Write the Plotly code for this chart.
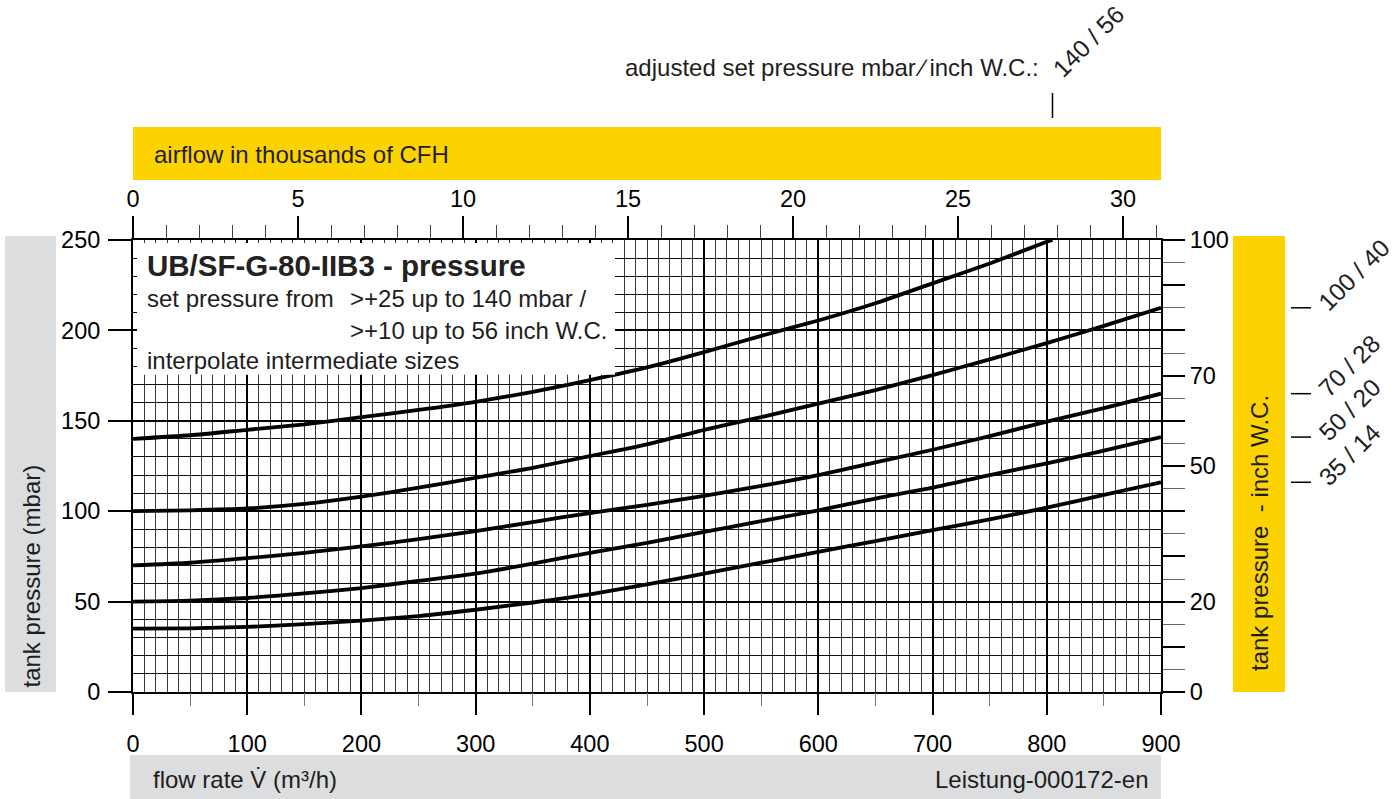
import plotly.graph_objects as go

# ---------------- data ----------------
flow = [0, 50, 100, 150, 200, 250, 300, 350, 400, 450, 500, 550, 600, 650, 700, 750, 800, 850, 900]
flow_140 = [0, 50, 100, 150, 200, 250, 300, 350, 400, 450, 500, 550, 600, 650, 700, 750, 800, 805]

p_140 = [140, 142, 145, 148, 152, 156, 160.5, 166, 172.5, 179.5, 188, 197, 205.5, 215, 226, 237, 249, 250]
p_100 = [100, 100.5, 101.5, 104, 108, 113, 118.5, 124, 130.5, 137, 145, 152, 159.5, 167, 175.3, 184, 193, 202.5, 212.5]
p_70 = [70, 71.5, 74, 77, 80.5, 84.5, 89, 94, 99, 103.5, 108.5, 114, 120, 127, 134, 141.5, 149.5, 157, 165]
p_50 = [50, 50.5, 52, 54.5, 57.5, 61.5, 65.5, 71, 77, 82.5, 88.5, 94.5, 100.5, 107, 113, 120, 126.5, 133.5, 141]
p_35 = [35, 35.2, 36, 37.5, 39.5, 42, 45.5, 49.5, 54, 59.5, 65.5, 71.5, 77.5, 83.5, 89.5, 95.5, 102, 109, 116]

set_mbar = [140, 100, 70, 50, 35]
set_inch = [56, 40, 28, 20, 14]

x_ticks = [0, 100, 200, 300, 400, 500, 600, 700, 800, 900]
x_half_ticks = [50, 150, 250, 350, 450, 550, 650, 750, 850]
y_ticks = [0, 50, 100, 150, 200, 250]
cfh_ticks = [0, 5, 10, 15, 20, 25, 30]
cfh_max = 31.15          # top scale end (thousands of CFH) as printed on the chart
inch_ticks = [0, 10, 20, 30, 40, 50, 60, 70, 80, 90, 100]
inch_labels = ["0", "", "20", "", "", "50", "", "70", "", "", "100"]

# ---------------- layout helpers ----------------
W, H = 1394, 799
L, R, T, B = 133, 1161, 240, 692


def px(x):
    return (x - L) / (R - L)


def py(y):
    return (B - y) / (B - T)


FONT = "Liberation Sans, Arial, Helvetica, sans-serif"
TXT = "#1e1e1e"
YELLOW = "#FCD200"
GREY = "#DCDDDF"
BODY = 24

fig = go.Figure()

series = [(flow_140, p_140), (flow, p_100), (flow, p_70), (flow, p_50), (flow, p_35)]
for xs, ys in series:
    fig.add_trace(go.Scatter(x=xs, y=ys, mode="lines",
                             line=dict(color="black", width=3.8, shape="spline", smoothing=0.6),
                             showlegend=False, hoverinfo="skip", xaxis="x", yaxis="y"))

# dummy traces so the secondary axes are drawn
fig.add_trace(go.Scatter(x=[0], y=[0], mode="markers", marker=dict(opacity=0),
                         showlegend=False, hoverinfo="skip", xaxis="x2", yaxis="y2"))
fig.add_trace(go.Scatter(x=[0], y=[0], mode="markers", marker=dict(opacity=0),
                         showlegend=False, hoverinfo="skip", xaxis="x3", yaxis="y"))

tickfont = dict(family=FONT, size=23.5, color="black")

fig.update_layout(
    width=W, height=H, autosize=False,
    margin=dict(l=L, r=W - R, t=T, b=H - B, pad=0),
    paper_bgcolor="white", plot_bgcolor="white",
    showlegend=False,
    xaxis=dict(range=[0, 900], tickvals=x_ticks, ticks="outside", ticklen=21, tickwidth=2,
               tickcolor="black", showline=True, linewidth=2, linecolor="black",
               showgrid=True, gridcolor="black", gridwidth=2, zeroline=False,
               minor=dict(dtick=10, showgrid=True, gridcolor="#3a3a3a", gridwidth=1, ticks=""),
               tickfont=tickfont, ticklabelstandoff=9, fixedrange=True),
    xaxis3=dict(range=[0, 900], overlaying="x", anchor="y", side="bottom",
                tickvals=x_half_ticks, ticks="outside", ticklen=13, tickwidth=1, tickcolor="#777",
                showticklabels=False, showgrid=False, showline=False, zeroline=False, fixedrange=True),
    yaxis=dict(range=[0, 250], tickvals=y_ticks, ticks="outside", ticklen=23, tickwidth=2,
               tickcolor="black", showline=True, linewidth=2, linecolor="black",
               showgrid=True, gridcolor="black", gridwidth=2, zeroline=False,
               minor=dict(dtick=10, showgrid=True, gridcolor="#111", gridwidth=1, ticks=""),
               tickfont=tickfont, ticklabelstandoff=3, fixedrange=True),
    xaxis2=dict(range=[0, cfh_max], overlaying="x", anchor="y2", side="top",
                tickvals=cfh_ticks, ticks="outside", ticklen=22, tickwidth=2, tickcolor="black",
                minor=dict(dtick=1, ticks="outside", ticklen=13, tickwidth=1, tickcolor="#444",
                           showgrid=False),
                showline=True, linewidth=2, linecolor="black", showgrid=False, zeroline=False,
                tickfont=tickfont, ticklabelstandoff=0, fixedrange=True),
    yaxis2=dict(range=[0, 100], overlaying="y", anchor="x2", side="right",
                tickvals=inch_ticks, ticktext=inch_labels, ticks="outside", ticklen=22,
                tickwidth=2, tickcolor="black",
                minor=dict(dtick=5, ticks="outside", ticklen=22, tickwidth=1, tickcolor="#666",
                           showgrid=False),
                showline=True, linewidth=2, linecolor="black", showgrid=False, zeroline=False,
                tickfont=tickfont, ticklabelstandoff=0, fixedrange=True),
)

shapes = []
# coloured bars
shapes.append(dict(type="rect", xref="paper", yref="paper", x0=px(133), x1=px(1161),
                   y0=py(180), y1=py(127), fillcolor=YELLOW, line=dict(width=0), layer="below"))
shapes.append(dict(type="rect", xref="paper", yref="paper", x0=px(5), x1=px(56),
                   y0=py(692), y1=py(236), fillcolor=GREY, line=dict(width=0), layer="below"))
shapes.append(dict(type="rect", xref="paper", yref="paper", x0=px(1233), x1=px(1285),
                   y0=py(692), y1=py(236), fillcolor=YELLOW, line=dict(width=0), layer="below"))
shapes.append(dict(type="rect", xref="paper", yref="paper", x0=px(130), x1=px(1161),
                   y0=py(800), y1=py(755), fillcolor=GREY, line=dict(width=0), layer="below"))
# white info box over the grid
shapes.append(dict(type="rect", xref="x", yref="y", x0=3.5, x1=422, y0=175.5, y1=248.3,
                   fillcolor="white", line=dict(width=0), layer="above"))

# set-pressure markers at the end of each curve
for (xs, ys), mb, inch in zip(series[1:], set_mbar[1:], set_inch[1:]):
    shapes.append(dict(type="line", xref="paper", yref="y", x0=px(1291), x1=px(1311),
                       y0=ys[-1], y1=ys[-1], line=dict(color="black", width=1.5)))
shapes.append(dict(type="line", xref="x", yref="paper", x0=flow_140[-1], x1=flow_140[-1],
                   y0=py(118), y1=py(93), line=dict(color="black", width=1.5)))
fig.update_layout(shapes=shapes)

ann = []


def text(s, x, y, size=BODY, xanchor="left", yanchor="middle", xref="paper", yref="paper",
         angle=0, bold=False, color=TXT, **kw):
    ann.append(dict(text=("<b>%s</b>" % s) if bold else s, x=x, y=y, xref=xref, yref=yref,
                    xanchor=xanchor, yanchor=yanchor, showarrow=False, textangle=angle,
                    font=dict(family=FONT, size=size, color=color), **kw))


text("airflow in thousands of CFH", px(152), py(154))
text("adjusted set pressure mbar\u2009\u2215\u2009inch W.C.:", px(1041), py(67), xanchor="right")
text("tank pressure (mbar)", px(31), py(690), angle=-90, yanchor="bottom", xanchor="center")
text("tank pressure \u00a0- inch W.C.", px(1259), py(673), angle=-90, yanchor="bottom", xanchor="center")
text("flow rate V\u0307 (m\u00b3/h)", px(151), py(779))
text("Leistung-000172-en", px(1151), py(779), xanchor="right")

text("UB/SF-G-80-IIB3 - pressure", px(145), py(265), size=29.5, bold=True, color="#222")
text("set pressure from", px(145), py(298))
text(">+25 up to 140 mbar /", px(348), py(298))
text(">+10 up to 56 inch W.C.", px(348), py(330))
text("interpolate intermediate sizes", px(145), py(360))

# rotated set-pressure labels
for (xs, ys), mb, inch in zip(series[1:], set_mbar[1:], set_inch[1:]):
    text("%d / %d" % (mb, inch), px(1311), ys[-1], yref="y", angle=-45,
         xanchor="left", yanchor="bottom", yshift=-11, size=24.5)
text("%d / %d" % (set_mbar[0], set_inch[0]), flow_140[-1], py(85), xref="x", angle=-45,
     xanchor="left", yanchor="bottom", xshift=-8, size=24.5)

fig.update_layout(annotations=ann)

fig.write_html("out.html")
